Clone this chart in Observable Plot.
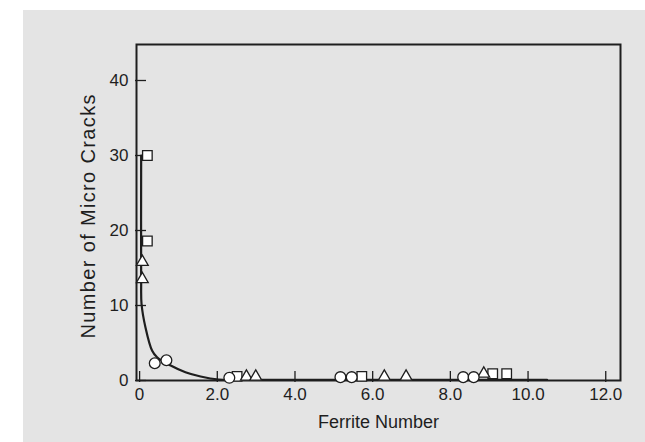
<!DOCTYPE html>
<html>
<head>
<meta charset="utf-8">
<script src="https://cdn.jsdelivr.net/npm/d3@7"></script>
<script src="https://cdn.jsdelivr.net/npm/@observablehq/plot@0.6"></script>
<style>
  html, body { margin: 0; padding: 0; background: #ffffff; }
  #wrap { position: relative; width: 645px; height: 442px; overflow: hidden; }
  #bg { position: absolute; left: 23px; top: 10px; right: 0; bottom: 0; background: #e4e4e4; }
  #chart { position: absolute; left: 0; top: 0; }
</style>
</head>
<body>
<div id="wrap"><div id="bg"></div><div id="chart"></div></div>
<script>
// ---- data ----
const squareX = [0.20, 0.20, 2.51, 5.72, 9.09, 9.45];
const squareY = [30.0, 18.6, 0.55, 0.55, 0.9, 0.9];

const triangleX = [0.07, 0.07, 2.75, 2.99, 6.30, 6.86, 8.86];
const triangleY = [15.8, 13.5, 0.5, 0.5, 0.5, 0.5, 0.9];

const circleX = [0.39, 0.69, 2.31, 5.17, 5.46, 8.33, 8.60];
const circleY = [2.3, 2.7, 0.36, 0.45, 0.45, 0.45, 0.45];

// fitted trend curve as drawn in the figure
const curveX = [0.04, 0.04, 0.05, 0.15, 0.32, 0.45, 0.80, 1.18, 1.57, 2.04, 2.6, 10.49];
const curveY = [30.0, 13.3, 10.2, 7.1, 4.0, 3.1, 2.0, 1.1, 0.53, 0.13, 0.09, 0.09];

const xTicks = [0, 2, 4, 6, 8, 10, 12];
const xTickLabels = ["0", "2.0", "4.0", "6.0", "8.0", "10.0", "12.0"];
const yTicks = [0, 10, 20, 30, 40];
const yTickLabels = ["0", "10", "20", "30", "40"];

const xTitle = "Ferrite Number";
const yTitle = "Number of Micro Cracks";

// ---- build tables ----
const zip = (xs, ys) => xs.map((x, i) => ({x, y: ys[i]}));
const squares = zip(squareX, squareY);
const triangles = zip(triangleX, triangleY);
const circles = zip(circleX, circleY);
const curve = zip(curveX, curveY);

const W = 645, H = 442;
const mL = 136, mR = 25, mT = 44, mB = 62;
const frameW = W - mL - mR, frameH = H - mT - mB;
const ink = "#1e1e1e";
const font = "'Liberation Sans', Arial, Helvetica, sans-serif";

const chart = Plot.plot({
  width: W,
  height: H,
  marginLeft: mL,
  marginRight: mR,
  marginTop: mT,
  marginBottom: mB,
  style: {background: "transparent", fontFamily: font, color: ink},
  x: {domain: [-0.08, 12.38]},
  y: {domain: [0, 44.8]},
  marks: [
    Plot.line(curve, {x: "x", y: "y", curve: "catmull-rom", stroke: ink, strokeWidth: 2.2}),
    Plot.tickX(xTicks, {x: d => d, stroke: ink, strokeWidth: 1.3, insetTop: frameH - 9, insetBottom: -2}),
    Plot.tickY(yTicks, {y: d => d, stroke: ink, strokeWidth: 1.3, insetRight: frameW - 10, insetLeft: -1}),
    Plot.frame({stroke: ink, strokeWidth: 2}),
    Plot.axisX(xTicks, {tickSize: 0, tickPadding: 7, fontSize: 17, fill: ink, label: null,
      tickFormat: d => xTickLabels[xTicks.indexOf(d)]}),
    Plot.axisY(yTicks, {tickSize: 0, tickPadding: 8, fontSize: 17, fill: ink, label: null,
      tickFormat: d => yTickLabels[yTicks.indexOf(d)]}),
    Plot.dot(squares, {x: "x", y: "y", symbol: "square", r: 5.4, fill: "white", stroke: ink, strokeWidth: 1.3}),
    Plot.dot(triangles, {x: "x", y: "y", symbol: "triangle", r: 4.4, fill: "white", stroke: ink, strokeWidth: 1.3}),
    Plot.dot(circles, {x: "x", y: "y", symbol: "circle", r: 5.4, fill: "white", stroke: ink, strokeWidth: 1.3}),
    Plot.text([xTitle], {text: d => d, frameAnchor: "bottom", lineAnchor: "top", dy: 35, fontSize: 18, fill: ink}),
    Plot.text([yTitle], {text: d => d, frameAnchor: "left", textAnchor: "middle", lineAnchor: "middle",
      rotate: -90, dx: -48, dy: 4, fontSize: 20, fill: ink})
  ]
});
document.getElementById("chart").appendChild(chart);

// stretch the y-title to the length it occupies in the reference
d3.select(chart).selectAll("text").filter(function () { return this.textContent === yTitle; })
  .attr("textLength", 244).attr("lengthAdjust", "spacing");
</script>
</body>
</html>
